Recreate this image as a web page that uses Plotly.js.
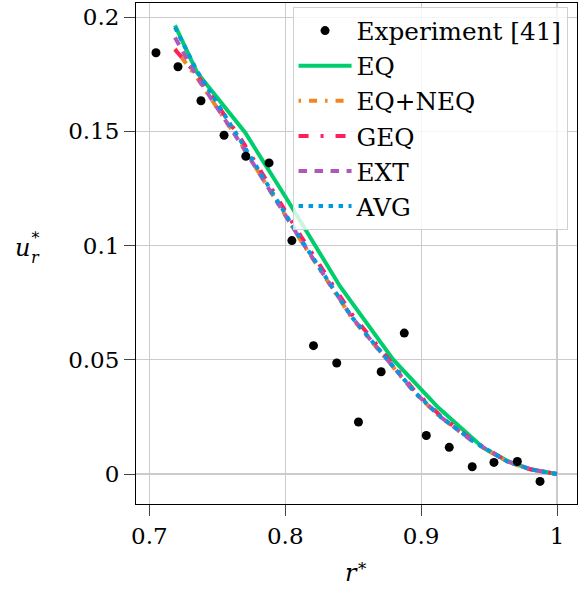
<!DOCTYPE html>
<html>
<head>
<meta charset="utf-8">
<script src="https://cdn.plot.ly/plotly-3.0.1.min.js"></script>
<style>html,body{margin:0;padding:0;background:#fff;}#chart{width:579px;height:594px;}</style>
</head>
<body>
<div id="chart"></div>
<script>
// ---- data ----
const rExp = [0.7049, 0.7211, 0.7380, 0.7550, 0.7710, 0.7881, 0.8049, 0.8208, 0.8379, 0.8539, 0.8706, 0.8876, 0.9038, 0.9207, 0.9376, 0.9536, 0.9708, 0.9875];
const uExp = [0.1844, 0.1783, 0.1634, 0.1483, 0.1391, 0.1362, 0.1022, 0.0562, 0.0486, 0.0228, 0.0448, 0.0617, 0.0169, 0.0117, 0.0032, 0.0051, 0.0055, -0.0032];

const rEQ = [0.7189, 0.7351, 0.7705, 0.8014, 0.8404, 0.8795, 0.9126, 0.9457, 0.9634, 0.9803, 1.0];
const uEQ = [0.1964, 0.1758, 0.1495, 0.1202, 0.0821, 0.0501, 0.0291, 0.0115, 0.0058, 0.0021, 0.0];

const rMod = [0.7189, 0.7351, 0.7690, 0.8117, 0.8493, 0.8743, 0.8957, 0.9141, 0.9384, 0.9634, 0.9804, 1.0];
const uEQNEQ = [0.1862, 0.1735, 0.1432, 0.1020, 0.0681, 0.0506, 0.0353, 0.0250, 0.0141, 0.0054, 0.0020, 0.0];
const uGEQ = [0.1858, 0.1748, 0.1452, 0.1040, 0.0697, 0.0518, 0.0361, 0.0256, 0.0145, 0.0056, 0.0021, 0.0];
const uEXT = [0.1911, 0.1738, 0.1430, 0.1022, 0.0684, 0.0509, 0.0355, 0.0251, 0.0142, 0.0055, 0.0021, 0.0];
const uAVG = [0.1955, 0.1765, 0.1442, 0.1026, 0.0685, 0.0510, 0.0356, 0.0252, 0.0143, 0.0055, 0.0021, 0.0];

const xTicks = [0.7, 0.8, 0.9, 1.0];
const xTickText = ["0.7", "0.8", "0.9", "1"];
const yTicks = [0, 0.05, 0.1, 0.15, 0.2];
const yTickText = ["0", "0.05", "0.1", "0.15", "0.2"];

const FONT = "'DejaVu Serif', 'Liberation Serif', serif";

function lineTrace(name, x, y, color, dash, rank) {
  return {type: "scatter", mode: "lines", name: name, x: x, y: y,
          line: {color: color, width: 4, dash: dash}, legendrank: rank};
}

const traces = [
  lineTrace("EQ", rEQ, uEQ, "#00CD6C", "solid", 2),
  lineTrace("EQ+NEQ", rMod, uEQNEQ, "#F28522", "2.5px,8px,8px,8px", 3),
  lineTrace("GEQ", rMod, uGEQ, "#FF1F5B", "10px,12px,3px,12px", 4),
  lineTrace("EXT", rMod, uEXT, "#AF58BA", "8.5px,7.5px", 5),
  lineTrace("AVG", rMod, uAVG, "#009ADE", "4.5px,5.5px", 6),
  {type: "scatter", mode: "markers", name: "Experiment [41]", x: rExp, y: uExp,
   marker: {color: "#000", size: 9, line: {color: "#000", width: 0}}, legendrank: 1}
];

const axisCommon = {
  showline: true, mirror: true, linecolor: "#000", linewidth: 1,
  showgrid: true, gridcolor: "#cbcbcb", gridwidth: 1.2, zeroline: false,
  ticks: "outside", ticklen: 11, tickwidth: 1, tickcolor: "#444",
  tickfont: {family: FONT, size: 23, color: "#000"}
};

const layout = {
  width: 579, height: 594,
  margin: {l: 136, r: 2, t: 3, b: 90},
  paper_bgcolor: "#fff", plot_bgcolor: "#fff",
  showlegend: true,
  font: {family: FONT, color: "#000"},
  xaxis: Object.assign({}, axisCommon, {
    range: [0.6902, 1.0147], tickmode: "array", tickvals: xTicks, ticktext: xTickText,
    title: {text: "<i>r</i><sup>∗</sup>", font: {family: FONT, size: 24}, standoff: 16}
  }),
  yaxis: Object.assign({}, axisCommon, {
    range: [-0.0131, 0.2062], tickmode: "array", tickvals: yTicks, ticktext: yTickText
  }),
  legend: {
    x: 0.355, xanchor: "left", y: 0.992, yanchor: "top",
    bgcolor: "rgba(255,255,255,0.8)", bordercolor: "#d0d0d0", borderwidth: 1,
    font: {family: FONT, size: 24.7, color: "#000"},
    itemwidth: 53, tracegroupgap: 0, entrywidth: 212, entrywidthmode: "pixels"
  },
  annotations: [
    {xref: "paper", yref: "paper", x: -0.257, y: 0.51, xanchor: "center", yanchor: "middle",
     text: "<i>u</i>", showarrow: false, font: {family: FONT, size: 24}},
    {xref: "paper", yref: "paper", x: -0.228, y: 0.492, xanchor: "center", yanchor: "middle",
     text: "<i>r</i>", showarrow: false, font: {family: FONT, size: 16}},
    {xref: "paper", yref: "paper", x: -0.228, y: 0.538, xanchor: "center", yanchor: "middle",
     text: "∗", showarrow: false, font: {family: FONT, size: 16}}
  ]
};

Plotly.newPlot("chart", traces, layout, {displayModeBar: false, staticPlot: true});
</script>
</body>
</html>
